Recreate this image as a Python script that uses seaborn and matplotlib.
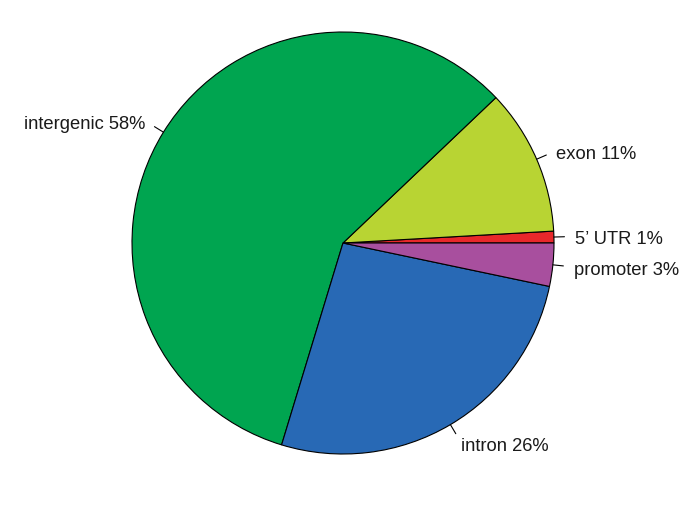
import numpy as np
import matplotlib
matplotlib.use("Agg")
import matplotlib.pyplot as plt
import matplotlib.transforms as mtransforms
import seaborn as sns

sns.set_theme(style="white")
plt.rcParams['font.family'] = ['Liberation Sans', 'DejaVu Sans']

categories = ["5\u2019 UTR", "exon", "intergenic", "intron", "promoter"]
values = [0.9, 11.2, 58.2, 26.4, 3.3]
pct_labels = ["1%", "11%", "58%", "26%", "3%"]
colors = ["#E8282B", "#B8D433", "#00A550", "#2869B5", "#A84F9E"]

W, H = 691, 506
cx, cy, R = 343, 244, 211

fig = plt.figure(figsize=(W / 100, H / 100), dpi=100)
ax = fig.add_axes([0, 0, 1, 1])

wedges, _ = ax.pie(values, colors=colors, startangle=0, counterclock=True,
                   wedgeprops=dict(edgecolor="black", linewidth=0.8))

text_tr = mtransforms.offset_copy(ax.transData, fig=fig, x=0, y=-2.5, units="dots")
for w, cat, pl in zip(wedges, categories, pct_labels):
    mid = np.deg2rad((w.theta1 + w.theta2) / 2)
    c, s = np.cos(mid), np.sin(mid)
    ax.plot([c * 1.0, c * 1.05], [s * 1.0, s * 1.05], color="black", lw=0.8)
    ax.text(c * 1.1, s * 1.1, f"{cat} {pl}", ha="left" if c > 0 else "right",
            va="center", fontsize=13.2, color="#1a1a1a", transform=text_tr)

ax.set_xlim(-cx / R, (W - cx) / R)
ax.set_ylim(-(H - cy) / R, cy / R)
ax.set_aspect("equal")
ax.axis("off")

fig.savefig("out.png", dpi=100, facecolor="white")
